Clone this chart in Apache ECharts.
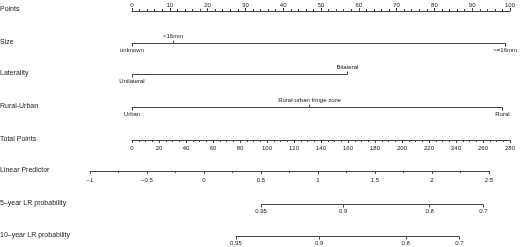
<!DOCTYPE html>
<html>
<head>
<meta charset="utf-8">
<script src="https://cdn.jsdelivr.net/npm/echarts@6/dist/echarts.min.js"></script>
<style>
html, body { margin: 0; padding: 0; background: #fff; }
#chart { width: 520px; height: 247px; }
</style>
</head>
<body>
<div id="chart"></div>
<script>
// nomogram data (points for each level)
var rowNames = ['Points', 'Size', 'Laterality', 'Rural-Urban', 'Total Points',
  'Linear Predictor', '5\u2013year LR probability', '10\u2013year LR probability'];
var pointsMax = 100;
var sizeLevels = ['unknown', '<16mm', '>=16mm'];
var sizePoints = [0, 11, 100];
var lateralityLevels = ['Unilateral', 'Bilateral'];
var lateralityPoints = [0, 57];
var ruralLevels = ['Urban', 'Rural-urban fringe zone', 'Rural'];
var ruralPoints = [0, 47, 98];
var totalPointsMax = 280;
var lpMin = -1, lpMax = 2.5;
var prob5 = [0.95, 0.9, 0.8, 0.7];
var prob5Lp = [0.50, 1.22, 1.98, 2.45];
var prob10 = [0.95, 0.9, 0.8, 0.7];
var prob10Lp = [0.28, 1.01, 1.77, 2.24];

var rowY = [11, 43, 74, 107, 140, 171, 204, 236];
var labelY = [10, 43, 74, 107, 140, 171, 204, 236];
var lineColor = '#444';
var textColor = '#1a1a1a';
var font = 'Liberation Sans';

var grids = [], xAxes = [], yAxes = [], series = [], texts = [];

rowNames.forEach(function (name, i) {
  var lpRow = i >= 5;
  // rows drawn by a line series sit on a half pixel so the 1px line is crisp
  var half = (i >= 1 && i <= 3) || i >= 6 ? 0.5 : 0;
  grids.push({ left: lpRow ? 90 : 132, right: lpRow ? 31 : 10, top: rowY[i] + half, height: 0 });
  yAxes.push({ gridIndex: i, show: false, min: -1, max: 1 });
  texts.push({
    type: 'text', left: 0, top: labelY[i] - 4,
    style: { text: name, fontSize: 7, fill: textColor, fontFamily: font }
  });
});

function tickLabel(margin) {
  return { fontSize: 6, color: textColor, fontFamily: font, margin: margin };
}

// scale axes: Points, Total Points, Linear Predictor
function scaleAxis(gi, pos, min, max, interval, split, margin, fmt) {
  return {
    type: 'value', gridIndex: gi, position: pos, min: min, max: max, interval: interval,
    axisLine: { show: true, lineStyle: { color: lineColor, width: 1 } },
    axisTick: { show: true, length: 3, lineStyle: { color: lineColor } },
    minorTick: { show: true, splitNumber: split, length: 2, lineStyle: { color: lineColor } },
    splitLine: { show: false },
    axisLabel: Object.assign(tickLabel(margin), { formatter: fmt })
  };
}

// one row of levels: labels alternate below / above the line
function levelAxes(gi, min, max, pts, labels) {
  ['bottom', 'top'].forEach(function (side, s) {
    var vals = pts.filter(function (v, k) { return k % 2 === s; });
    xAxes.push({
      type: 'value', gridIndex: gi, position: side, min: min, max: max,
      axisLine: { show: false },
      splitLine: { show: false },
      axisTick: { show: true, length: 3, customValues: vals, lineStyle: { color: lineColor } },
      axisLabel: Object.assign(tickLabel(4), {
        customValues: vals,
        formatter: function (v) { return labels[pts.indexOf(v)]; }
      })
    });
  });
  series.push({
    type: 'line', xAxisIndex: xAxes.length - 2, yAxisIndex: gi, symbol: 'none', silent: true,
    lineStyle: { color: lineColor, width: 1 },
    data: [[pts[0], 0], [pts[pts.length - 1], 0]]
  });
}

xAxes.push(scaleAxis(0, 'top', 0, pointsMax, 10, 5, 3));
levelAxes(1, 0, pointsMax, sizePoints, sizeLevels);
levelAxes(2, 0, pointsMax, lateralityPoints, lateralityLevels);
levelAxes(3, 0, pointsMax, ruralPoints, ruralLevels);
xAxes.push(scaleAxis(4, 'bottom', 0, totalPointsMax, 20, 4, 5));
xAxes.push(scaleAxis(5, 'bottom', lpMin, lpMax, 0.5, 2, 6, function (v) {
  return String(v).replace('-', '\u2212');
}));

// probability rows sit on the linear predictor scale
function probAxis(gi, lps, probs) {
  xAxes.push({
    type: 'value', gridIndex: gi, position: 'bottom', min: lpMin, max: lpMax,
    axisLine: { show: false },
    splitLine: { show: false },
    axisTick: { show: true, length: 3, customValues: lps, lineStyle: { color: lineColor } },
    axisLabel: Object.assign(tickLabel(4), {
      customValues: lps,
      formatter: function (v) { return String(probs[lps.indexOf(v)]); }
    })
  });
  series.push({
    type: 'line', xAxisIndex: xAxes.length - 1, yAxisIndex: gi, symbol: 'none', silent: true,
    lineStyle: { color: lineColor, width: 1 },
    data: [[lps[0], 0], [lps[lps.length - 1], 0]]
  });
}
probAxis(6, prob5Lp, prob5);
probAxis(7, prob10Lp, prob10);

var chart = echarts.init(document.getElementById('chart'));
chart.setOption({
  animation: false,
  backgroundColor: '#fff',
  grid: grids,
  xAxis: xAxes,
  yAxis: yAxes,
  series: series,
  graphic: texts
});
</script>
</body>
</html>
